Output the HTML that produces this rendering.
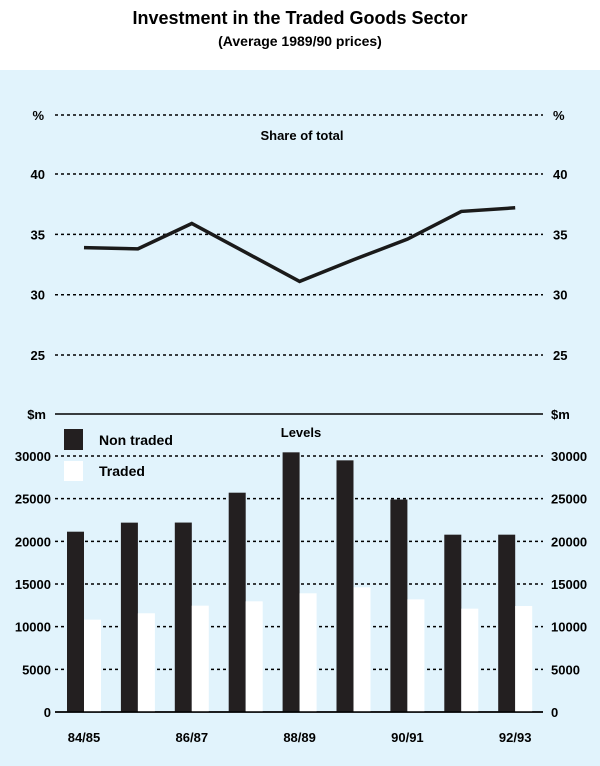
<!DOCTYPE html>
<html><head><meta charset="utf-8"><style>
body{margin:0;background:#fff;}
svg{display:block;font-family:"Liberation Sans",Arial,sans-serif;}
</style></head><body>
<svg id="c" width="600" height="766">
<rect x="0" y="70" width="600" height="696" fill="#e1f3fc"/>
<text x="300" y="24" text-anchor="middle" font-size="18" font-weight="bold">Investment in the Traded Goods Sector</text>
<text x="300" y="46" text-anchor="middle" font-size="14" font-weight="bold">(Average 1989/90 prices)</text>
<g id="topPanel"></g><g id="botPanel"></g>
</svg>
<script>
const years=["84/85","85/86","86/87","87/88","88/89","89/90","90/91","91/92","92/93"];
const xLabels=["84/85","86/87","88/89","90/91","92/93"];
const share=[33.9,33.8,35.9,33.5,31.1,32.9,34.6,36.9,37.2];
const nonTraded=[21130,22190,22200,25700,30430,29490,24900,20780,20780];
const traded=[10820,11570,12460,12970,13910,14610,13200,12110,12420];
const shareTicks=[25,30,35,40];
const levelTicks=[0,5000,10000,15000,20000,25000,30000];
const NS="http://www.w3.org/2000/svg";
function mk(p,t,a,txt){const e=document.createElementNS(NS,t);for(const k in a)e.setAttribute(k,a[k]);if(txt!==undefined)e.textContent=txt;p.appendChild(e);return e;}
const L=55,R=543;
const xs=i=>84+i*53.9;
const ys=v=>174+(40-v)*12.07;
const yl=v=>712-v*256/30000;
const topG=document.getElementById('topPanel'),botG=document.getElementById('botPanel');
let g=mk(topG,'line',{x1:L,x2:R,y1:115,y2:115,stroke:'#000','stroke-width':1.5,'stroke-dasharray':'3,3'});


let t=mk(topG,'text',{x:44,y:120,'text-anchor':'end','font-size':13,'font-weight':'bold'},'%');


t=mk(topG,'text',{x:553,y:120,'font-size':13,'font-weight':'bold'},'%');


t=mk(topG,'text',{x:302,y:140,'text-anchor':'middle','font-size':13,'font-weight':'bold'},'Share of total');


shareTicks.forEach(v=>{const y=ys(v);
 let l=mk(topG,'line',{x1:L,x2:R,y1:y,y2:y,stroke:'#000','stroke-width':1.5,'stroke-dasharray':'3,3'});
 
 
 let a=mk(topG,'text',{x:45,y:y+5,'text-anchor':'end','font-size':13,'font-weight':'bold'},v);
 
 
 let b=mk(topG,'text',{x:553,y:y+5,'font-size':13,'font-weight':'bold'},v);
 
 });
let pl=mk(topG,'polyline',{points:share.map((v,i)=>xs(i)+','+ys(v)).join(' '),fill:'none',stroke:'#1a1a1a','stroke-width':3.5});


g=mk(botG,'line',{x1:L,x2:R,y1:414,y2:414,stroke:'#000','stroke-width':1.5});


t=mk(botG,'text',{x:46,y:419,'text-anchor':'end','font-size':13,'font-weight':'bold'},'$m');


t=mk(botG,'text',{x:551,y:419,'font-size':13,'font-weight':'bold'},'$m');


t=mk(botG,'text',{x:301,y:437,'text-anchor':'middle','font-size':13,'font-weight':'bold'},'Levels');


levelTicks.forEach(v=>{const y=yl(v);
 let l=mk(botG,'line',{x1:L,x2:R,y1:y,y2:y,stroke:'#000','stroke-width':1.5,'stroke-dasharray':v===0?'none':'3,3'});
 
 
 let a=mk(botG,'text',{x:51,y:y+5,'text-anchor':'end','font-size':13,'font-weight':'bold'},v);
 
 
 let b=mk(botG,'text',{x:551,y:y+5,'font-size':13,'font-weight':'bold'},v);
 
 });
years.forEach((yr,i)=>{const c=xs(i);
 let r1=mk(botG,'rect',{x:c-17,y:yl(nonTraded[i]),width:17,height:yl(0)-yl(nonTraded[i]),fill:'#231f20'});
 
 
 let r2=mk(botG,'rect',{x:c,y:yl(traded[i]),width:17,height:yl(0)-yl(traded[i]),fill:'#fff'});
 
 });
let ax=mk(botG,'line',{x1:L,x2:R,y1:712,y2:712,stroke:'#000','stroke-width':1.5});


xLabels.forEach(lb=>{const i=years.indexOf(lb);
 let a=mk(botG,'text',{x:xs(i),y:742,'text-anchor':'middle','font-size':13,'font-weight':'bold'},lb);
 
 });
let s1=mk(botG,'rect',{x:64,y:429,width:19,height:21,fill:'#231f20'});


let l1=mk(botG,'text',{x:99,y:445,'font-size':14,'font-weight':'bold'},'Non traded');


let s2=mk(botG,'rect',{x:64,y:461,width:19,height:20,fill:'#fff'});


let l2=mk(botG,'text',{x:99,y:476,'font-size':14,'font-weight':'bold'},'Traded');


</script>
</body></html>
